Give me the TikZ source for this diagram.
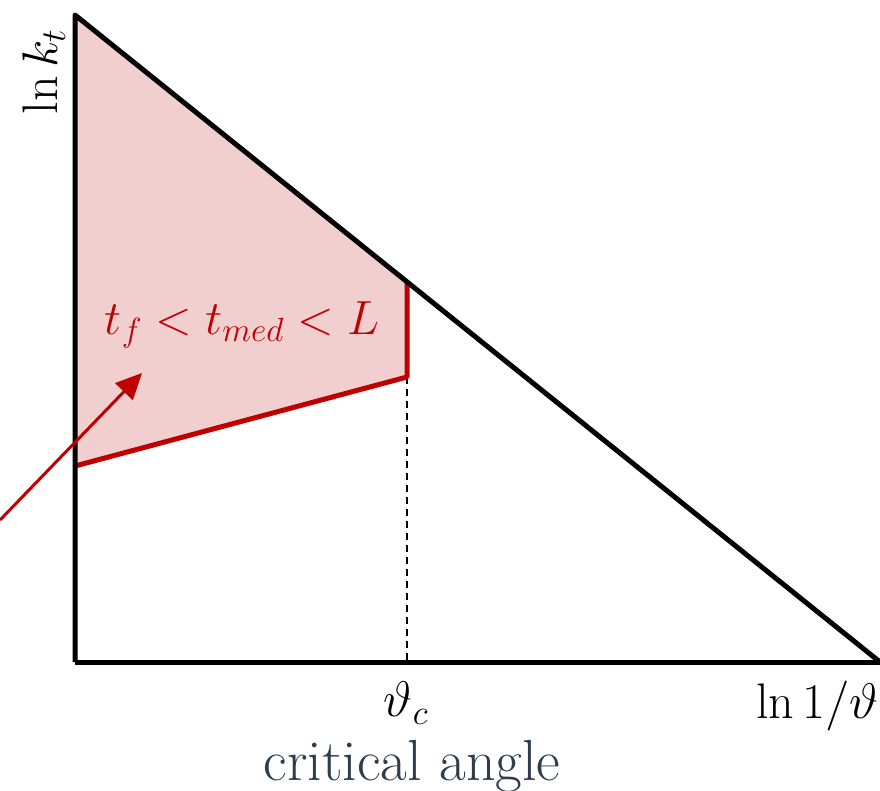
\RequirePackage{fix-cm}
\documentclass[tikz,border=0pt]{standalone}
\usetikzlibrary{arrows.meta}
\definecolor{darkred}{RGB}{192,0,0}
\definecolor{shadecol}{RGB}{242,207,207}
\definecolor{slate}{RGB}{46,60,80}
\begin{document}
\begin{tikzpicture}[x=1pt,y=-1pt,
  axisline/.style={line width=5pt,line join=round},
  redline/.style={darkred,line width=5pt,line join=round},
  biglabel/.style={font=\fontsize{50}{54}\selectfont,inner sep=0pt},
  redlabel/.style={darkred,font=\fontsize{48}{52}\selectfont,inner sep=0pt},
  captionlabel/.style={slate,font=\fontsize{58}{62}\selectfont,inner sep=0pt}]
\useasboundingbox (0,0) rectangle (880,790);
\coordinate (T) at (75,15);
\coordinate (O) at (75,662);
\coordinate (R) at (880,662);
\coordinate (C) at (407,282);
\coordinate (D) at (407,377);
\coordinate (E) at (75,466);
\coordinate (F) at (407,662);
\coordinate (A0) at (0,520);
\coordinate (A1) at (142,373);
% shaded region
\fill[shadecol] (T) -- (C) -- (D) -- (E) -- cycle;
% dashed
\draw[line width=1.8pt,dash pattern=on 7pt off 5pt] (D) -- (F);
% red boundary
\draw[redline] (E) -- (D) -- (C);
% axes and diagonal
\draw[axisline] (O) -- (R);
\draw[axisline] (O) -- (T) -- (R);
% arrow
\draw[darkred,line width=3pt,-{Triangle[length=26pt,width=24pt]}] (A0) -- (A1);
% labels
\node[redlabel] (form) at (242,325) {$t_f < t_{med} < L$};
\node[biglabel,rotate=90] (ylab) at (44,72) {$\ln k_t$};
\node[biglabel] (thc) at (406,703) {$\vartheta_c$};
\node[biglabel,anchor=east] (xlab) at (879,706) {$\ln 1/\vartheta$};
\node[captionlabel] (crit) at (412,766) {critical angle};
\end{tikzpicture}
\end{document}
